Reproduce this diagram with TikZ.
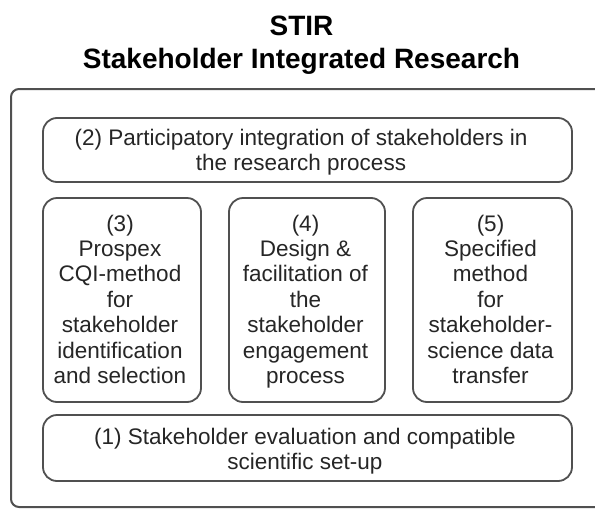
\documentclass[tikz,border=0pt]{standalone}
\usepackage{fontspec}
\setmainfont{Liberation Sans}
\definecolor{edge}{HTML}{505050}
\definecolor{ink}{HTML}{262626}
\begin{document}
\begin{tikzpicture}[x=1pt,y=-1pt,
  frame/.style={draw=edge, line width=2pt, rounded corners=8pt},
  card/.style={draw=edge, line width=1.8pt, rounded corners=14pt, inner sep=0pt},
  label/.style={text=ink, align=center, inner sep=0pt, anchor=base,
    font=\fontsize{22.5}{25.4}\selectfont},
  heading/.style={text=black, inner sep=0pt, anchor=base,
    font=\bfseries\fontsize{28}{32}\selectfont}]
\useasboundingbox (0,0) rectangle (595,509);
\clip (0,0) rectangle (595,509);
\fill[white] (0,0) rectangle (595,509);
% title
\node[heading] (t1) at (301.5,35.5) {STIR};
\node[heading] (t2) at (301.5,68) {Stakeholder Integrated Research};
% outer frame
\draw[frame] (11,89) rectangle (640,507);
% boxes
\node[card, minimum width=529pt, minimum height=64pt] (b2) at (307.5,150) {};
\node[card, minimum width=158pt, minimum height=204pt] (b3) at (122,300) {};
\node[card, minimum width=156pt, minimum height=204pt] (b4) at (307,300) {};
\node[card, minimum width=159pt, minimum height=204pt] (b5) at (492.5,300) {};
\node[card, minimum width=529pt, minimum height=66pt] (b1) at (307.5,448) {};
% texts (anchored at the baseline of the last line)
\node[label] (l2) at (301,170.5) {(2) Participatory integration of stakeholders in\\the research process};
\node[label] (l3) at (120,383.4) {(3)\\Prospex\\CQI-method\\for\\stakeholder\\identification\\and selection};
\node[label] (l4) at (305.5,383.4) {(4)\\Design \&\\facilitation of\\the\\stakeholder\\engagement\\process};
\node[label] (l5) at (490.5,383.4) {(5)\\Specified\\method\\for\\stakeholder-\\science data\\transfer};
\node[label] (l1) at (305,469.5) {(1) Stakeholder evaluation and compatible\\scientific set-up};
\end{tikzpicture}
\end{document}
